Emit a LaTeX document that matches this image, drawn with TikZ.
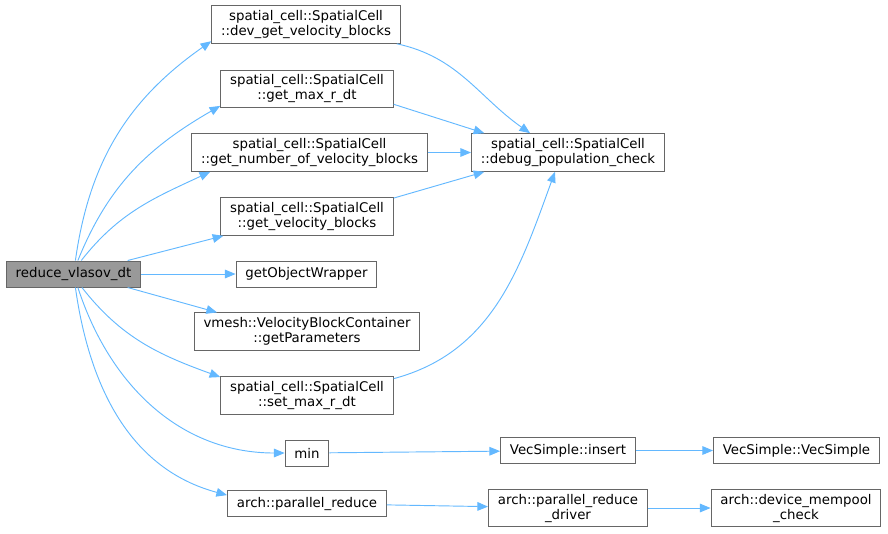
\documentclass[tikz,border=0pt]{standalone}
\usepackage{fontspec}
\setmainfont{DejaVu Sans}
\usepackage{xcolor}
\usepackage{tikz}
\usetikzlibrary{arrows.meta,positioning}
\definecolor{edgeblue}{HTML}{63B8FF}
\definecolor{boxgray}{HTML}{666666}
\definecolor{rootgray}{HTML}{999999}

\begin{document}
\begin{tikzpicture}[
      x=0.75pt, y=0.75pt,
      fnbox/.style={
         rectangle,
         draw=boxgray,
         fill=white,
         line width=0.75pt,
         align=center,
         inner xsep=7pt,
         inner ysep=3.5pt,
         minimum height=19.5pt,
         font=\fontsize{10}{11.25}\selectfont},
      rootbox/.style={
         fnbox,
         fill=rootgray},
      myarrow/.style={
         draw=edgeblue,
         line width=0.7pt,
         -{Triangle[length=8pt,width=6.5pt,fill=edgeblue]}}
      ]
      \useasboundingbox (0,0) rectangle (888,-533);

      \node[rootbox] (red) at (73.5,-274) {reduce\_vlasov\_dt};
      \node[fnbox] (dev)  at (306,-24.5)   {spatial\_cell::SpatialCell\\::dev\_get\_velocity\_blocks};
      \node[fnbox] (gmax) at (307,-89)     {spatial\_cell::SpatialCell\\::get\_max\_r\_dt};
      \node[fnbox] (gnum) at (309.5,-152.5) {spatial\_cell::SpatialCell\\::get\_number\_of\_velocity\_blocks};
      \node[fnbox] (gvel) at (307,-216.5)  {spatial\_cell::SpatialCell\\::get\_velocity\_blocks};
      \node[fnbox] (gow)  at (306.5,-274)  {getObjectWrapper};
      \node[fnbox] (vmp)  at (307,-331.5)  {vmesh::VelocityBlockContainer\\::getParameters};
      \node[fnbox] (smax) at (307,-395.5)  {spatial\_cell::SpatialCell\\::set\_max\_r\_dt};
      \node[fnbox] (min)  at (307,-453)    {min};
      \node[fnbox] (pred) at (307,-503.5)  {arch::parallel\_reduce};
      \node[fnbox] (dbg)  at (568,-152.5)  {spatial\_cell::SpatialCell\\::debug\_population\_check};
      \node[fnbox] (ins)  at (568,-450.5)  {VecSimple::insert};
      \node[fnbox] (drv)  at (568,-508)    {arch::parallel\_reduce\\\_driver};
      \node[fnbox] (vs)   at (796.5,-450.5) {VecSimple::VecSimple};
      \node[fnbox] (mem)  at (796,-508)    {arch::device\_mempool\\\_check};

    % curved calls: start anchor/end anchor/out/in
    \foreach \i/\j/\o/\n in {%
      red.82/dev.190/82/215,
      red.72/gmax.191/68/210,
      red.60/gnum.191.5/52/205,
      red.-58/smax.168.5/-52/160,
      red.-72/min.west/-72/180,
      red.-82/pred.174/-82/165,
      dev.-12/dbg.153/-12/145,
      smax.11/dbg.236/15/250}
       \draw [myarrow] (\i) to[out=\o,in=\n] (\j);

    % straight calls
    \foreach \i/\j in {%
      red.14/gvel.193,
      red/gow,
      red.-14/vmp.168,
      gmax.-10/dbg.167,
      gnum/dbg,
      gvel.12/dbg.193,
      min/ins,
      ins/vs,
      pred/drv,
      drv/mem}
       \draw [myarrow] (\i) -- (\j);
    \end{tikzpicture}
\end{document}
